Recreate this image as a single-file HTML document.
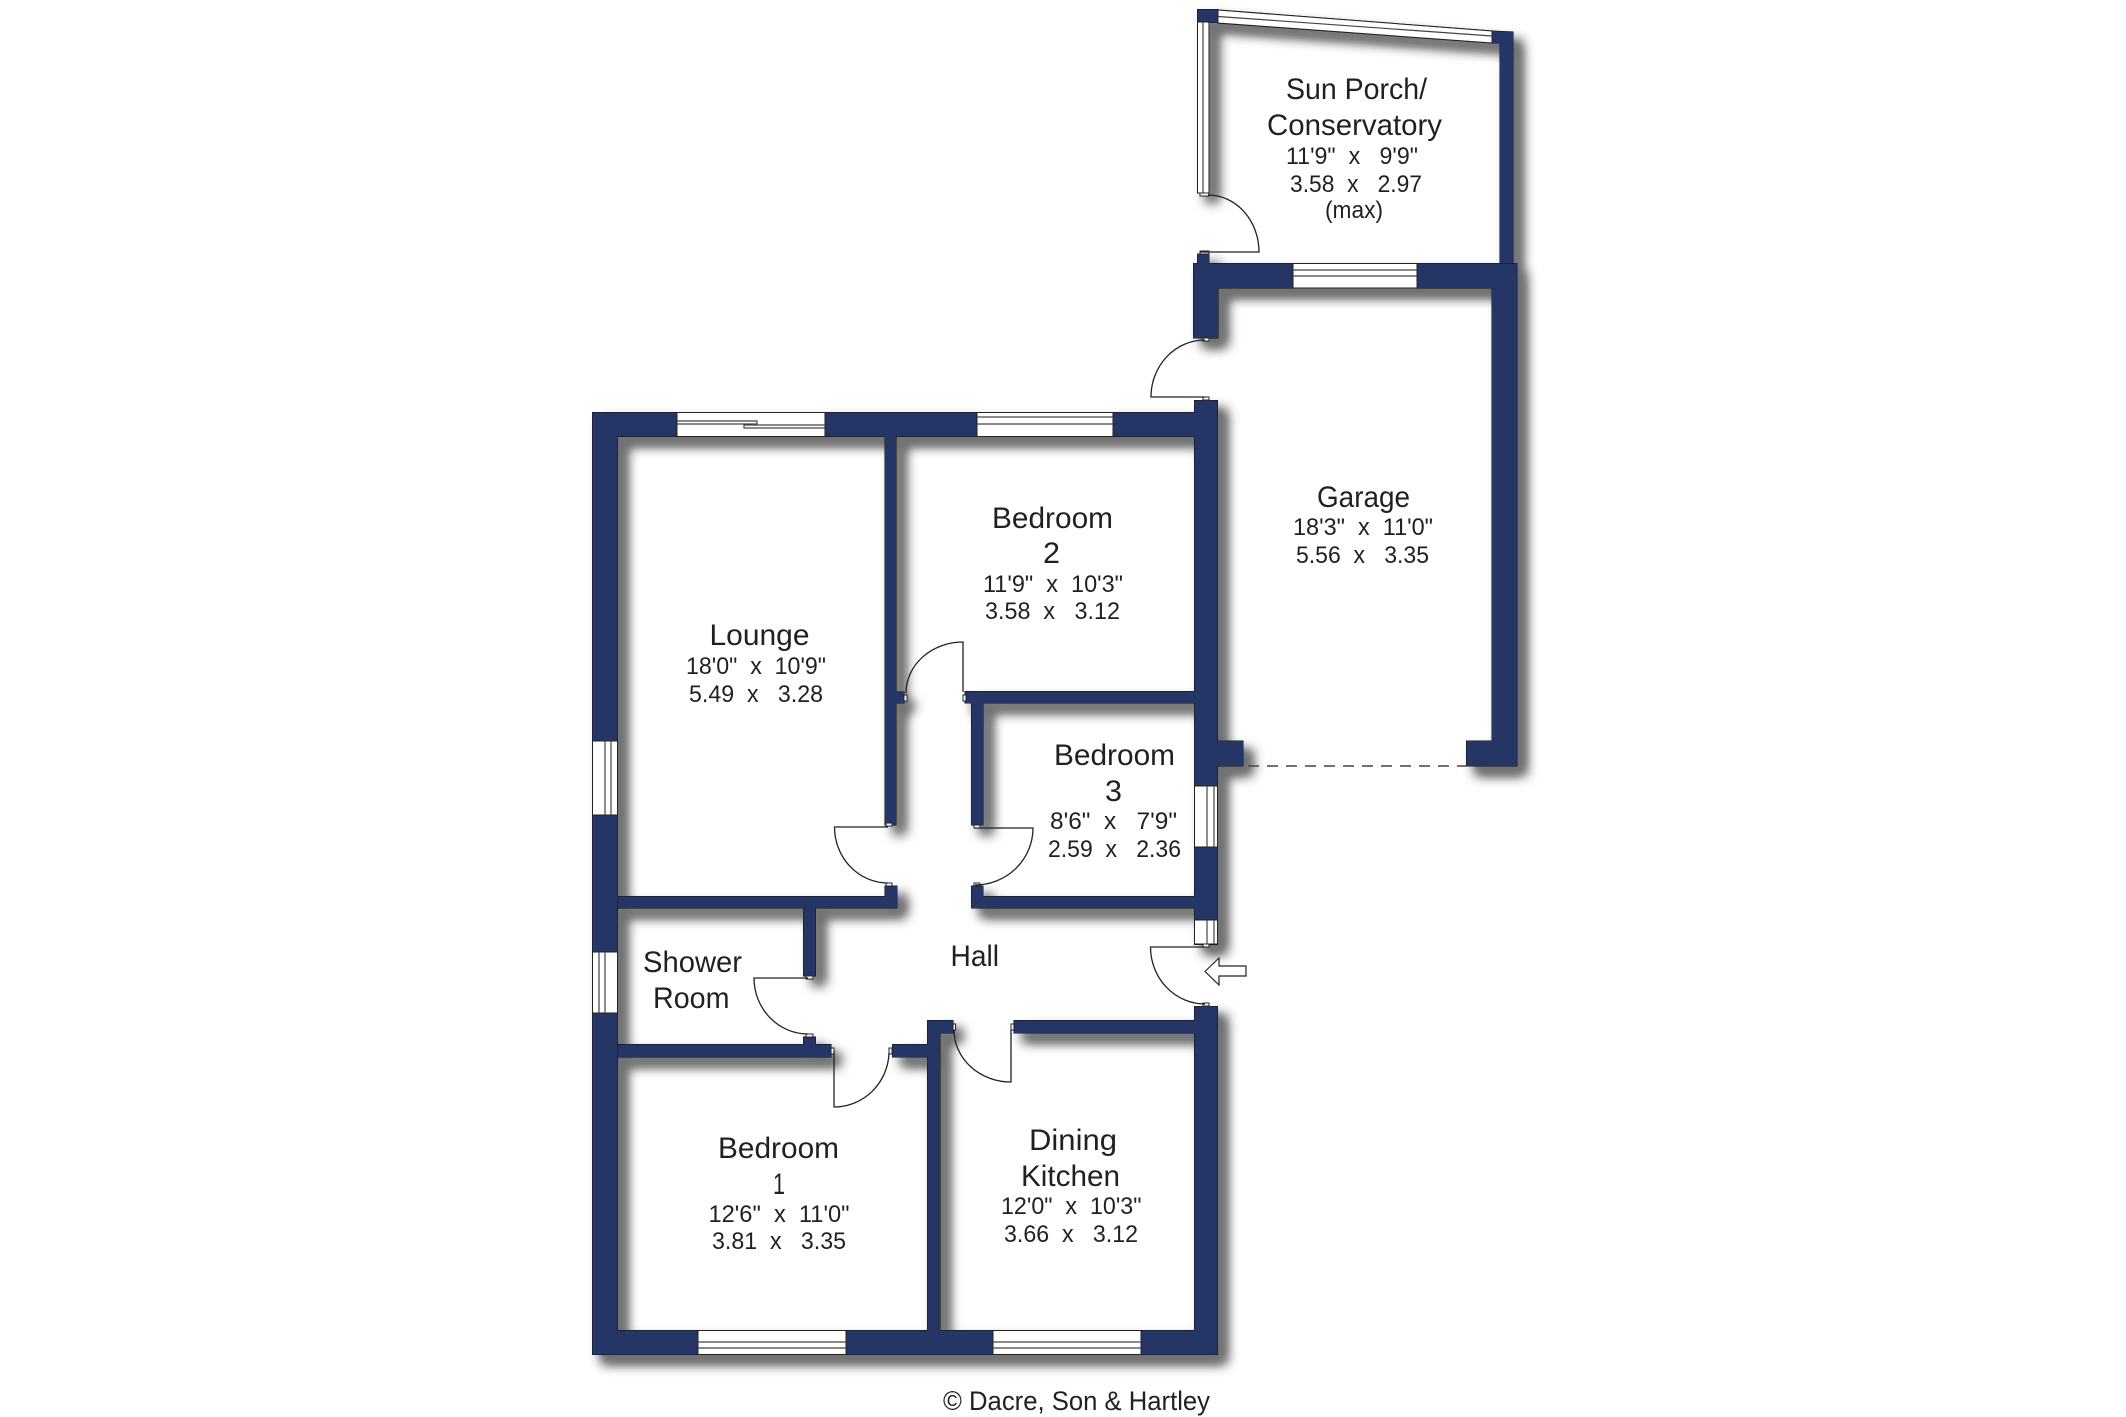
<!DOCTYPE html>
<html><head><meta charset="utf-8"><title>Floor plan</title>
<style>
html,body{margin:0;padding:0;background:#fff}
svg{display:block}
text{font-family:"Liberation Sans",sans-serif;fill:#231f20;white-space:pre}
.a{font-size:30px}.b{font-size:24px}
.w{fill:#fff;stroke:#222;stroke-width:1}
.l{stroke:#444;stroke-width:1.2;fill:none}
.d{stroke:#222;stroke-width:1.3;fill:none}
</style></head><body>
<svg xmlns="http://www.w3.org/2000/svg" width="2126" height="1417" viewBox="0 0 2126 1417">
<defs>
<filter id="s" x="-5%" y="-5%" width="110%" height="110%">
<feGaussianBlur in="SourceAlpha" stdDeviation="6"/>
<feOffset dx="9" dy="9"/>
<feComponentTransfer><feFuncA type="table" tableValues="0 .2 .38 .5 .55 .55"/></feComponentTransfer>
</filter>
<g id="g">
<rect x="592.5" y="412.5" width="625" height="24"/>
<rect x="592.5" y="412.5" width="25" height="942"/>
<rect x="592.5" y="1330.5" width="625" height="24"/>
<rect x="1194.5" y="400.5" width="23" height="544"/>
<rect x="1194.5" y="1006.5" width="23" height="348"/>
<rect x="885" y="436" width="11" height="389"/>
<rect x="896" y="692" width="8" height="11"/>
<rect x="965" y="691.5" width="230" height="11.5"/>
<rect x="971.5" y="703" width="11.5" height="122"/>
<rect x="618" y="896.5" width="279" height="11.5"/>
<rect x="885" y="886" width="12" height="10.5"/>
<rect x="971.5" y="896.5" width="223" height="11.5"/>
<rect x="971.5" y="886" width="11.5" height="10.5"/>
<rect x="803.5" y="908" width="12" height="68"/>
<rect x="618" y="1044.5" width="213" height="12.5"/>
<rect x="803.5" y="1037" width="12" height="8"/>
<rect x="892.5" y="1044.5" width="35" height="12.5"/>
<rect x="927.5" y="1020.5" width="12.5" height="310"/>
<rect x="927.5" y="1020.5" width="25.5" height="12.5"/>
<rect x="1014" y="1020.5" width="181" height="12.5"/>
<rect x="1217" y="741" width="26" height="25"/>
<rect x="1492" y="263.5" width="25" height="502"/>
<rect x="1466.5" y="741" width="50.5" height="25"/>
<rect x="1193.5" y="263.5" width="323.5" height="24.5"/>
<rect x="1193.5" y="263.5" width="24.5" height="74.5"/>
<rect x="1197.5" y="254" width="11.5" height="10"/>
<polygon points="1492,31 1513,32 1513,263 1500,263 1500,43 1492,43"/>
<rect x="1197.5" y="9.5" width="20.5" height="13"/>
<rect x="1197.5" y="22" width="11.5" height="171"/>
<polygon points="1218,10 1492,31 1492,43 1218,23"/>
</g>
</defs>
<rect width="2126" height="1417" fill="#fff"/>
<use href="#g" filter="url(#s)"/>
<use href="#g" fill="#111" stroke="#111" stroke-width="1"/>
<use href="#g" fill="#243566"/>

<!-- windows -->
<rect class="w" x="677" y="412.5" width="148" height="24"/>
<path class="l" d="M677 421H757V424H677M825 425H744V428H825"/>
<rect class="w" x="977" y="412.5" width="136" height="24"/>
<path class="l" d="M977 417H1113M977 424H1113"/>
<rect class="w" x="592.5" y="741" width="25" height="74"/>
<path class="l" d="M605 741V815M611 741V815"/>
<rect class="w" x="592.5" y="952" width="25" height="61"/>
<path class="l" d="M599 952V1013M605 952V1013"/>
<rect class="w" x="698" y="1330.5" width="148" height="24"/>
<path class="l" d="M698 1342H846M698 1348H846"/>
<rect class="w" x="993" y="1330.5" width="148" height="24"/>
<path class="l" d="M993 1342H1141M993 1348H1141"/>
<rect class="w" x="1194.5" y="786" width="23" height="61"/>
<path class="l" d="M1207 786V847M1214 786V847"/>
<rect class="w" x="1194.5" y="920" width="23" height="24"/>
<path class="l" d="M1207 920V944M1214 920V944"/>
<rect class="w" x="1293" y="263.5" width="124" height="24.5"/>
<path class="l" d="M1293 270H1417M1293 276H1417"/>
<rect class="w" x="1197.5" y="22" width="11.5" height="171"/>
<path class="l" d="M1203 22V193"/>
<polygon class="w" points="1218,10 1492,31 1492,43 1218,23"/>
<path class="l" d="M1218 16.5L1492 36"/>

<!-- sills -->
<g class="w">
<rect class="w" x="1200" y="193" width="9" height="3"/>
<rect class="w" x="1200" y="251" width="9" height="3"/>
<rect class="w" x="1203" y="338" width="6" height="3"/>
<rect class="w" x="1203" y="397" width="6" height="3"/>
<rect class="w" x="904" y="695" width="3" height="6"/>
<rect class="w" x="963" y="695" width="3" height="6"/>
<rect class="w" x="886" y="823" width="6" height="3"/>
<rect class="w" x="886" y="883" width="6" height="3"/>
<rect class="w" x="974" y="825" width="6" height="3"/>
<rect class="w" x="974" y="883" width="6" height="3"/>
<rect class="w" x="806" y="976" width="7" height="3"/>
<rect class="w" x="806" y="1034" width="7" height="3"/>
<rect class="w" x="831" y="1048" width="3" height="6"/>
<rect class="w" x="889" y="1048" width="3" height="6"/>
<rect class="w" x="953" y="1024" width="2.5" height="6"/>
<rect class="w" x="1011" y="1024" width="3" height="6"/>
<rect class="w" x="1203" y="944" width="6" height="3"/>
<rect class="w" x="1203" y="1003" width="6" height="3"/>
</g>

<!-- doors -->
<path class="d" d="M1208 195A51 57 0 0 1 1259 252L1200 252"/>
<path class="d" d="M1205 340A54 57 0 0 0 1151 397L1205 397"/>
<path class="d" d="M906 693A57 51 0 0 1 963 642L963 692"/>
<path class="d" d="M888 827L834.5 827A53.5 56 0 0 0 888 883"/>
<path class="d" d="M975 828L1033 828A58 57 0 0 1 975 885"/>
<path class="d" d="M808 978L754 978A54 56 0 0 0 808 1034"/>
<path class="d" d="M834 1051L834 1107A55 56 0 0 0 889 1053"/>
<path class="d" d="M954 1030A57 52 0 0 0 1011 1082L1011 1030"/>
<path class="d" d="M1205 947L1150.5 947A54.5 57 0 0 0 1205 1004"/>

<!-- garage dashed line -->
<path d="M1248 766H1466" stroke="#444" stroke-width="1.5" stroke-dasharray="11 8" fill="none"/>

<!-- arrow -->
<path d="M1205 971.5L1219 958V966H1246V976H1219V985Z" fill="#fff" stroke="#222" stroke-width="1.2"/>

<!-- labels -->
<text class="a" x="1286" y="99" textLength="141" lengthAdjust="spacingAndGlyphs">Sun Porch/</text>
<text class="a" x="1267" y="135" textLength="175" lengthAdjust="spacingAndGlyphs">Conservatory</text>
<text class="b" x="1286" y="164" textLength="132" lengthAdjust="spacingAndGlyphs">11'9"  x   9'9"</text>
<text class="b" x="1290" y="192" textLength="132" lengthAdjust="spacingAndGlyphs">3.58  x   2.97</text>
<text class="b" x="1325" y="218" textLength="58" lengthAdjust="spacingAndGlyphs">(max)</text>

<text class="a" x="1317" y="507" textLength="93" lengthAdjust="spacingAndGlyphs">Garage</text>
<text class="b" x="1293" y="535" textLength="140" lengthAdjust="spacingAndGlyphs">18'3"  x  11'0"</text>
<text class="b" x="1296" y="563" textLength="133" lengthAdjust="spacingAndGlyphs">5.56  x   3.35</text>

<text class="a" x="992" y="528" textLength="121" lengthAdjust="spacingAndGlyphs">Bedroom</text>
<text class="a" x="1043" y="563" textLength="17" lengthAdjust="spacingAndGlyphs">2</text>
<text class="b" x="983" y="592" textLength="140" lengthAdjust="spacingAndGlyphs">11'9"  x  10'3"</text>
<text class="b" x="985" y="619" textLength="135" lengthAdjust="spacingAndGlyphs">3.58  x   3.12</text>

<text class="a" x="709.5" y="645" textLength="100" lengthAdjust="spacingAndGlyphs">Lounge</text>
<text class="b" x="686" y="674" textLength="140" lengthAdjust="spacingAndGlyphs">18'0"  x  10'9"</text>
<text class="b" x="689" y="702" textLength="134" lengthAdjust="spacingAndGlyphs">5.49  x   3.28</text>

<text class="a" x="1054" y="765" textLength="121" lengthAdjust="spacingAndGlyphs">Bedroom</text>
<text class="a" x="1105" y="801" textLength="17" lengthAdjust="spacingAndGlyphs">3</text>
<text class="b" x="1050" y="829" textLength="127" lengthAdjust="spacingAndGlyphs">8'6"  x   7'9"</text>
<text class="b" x="1048" y="857" textLength="133" lengthAdjust="spacingAndGlyphs">2.59  x   2.36</text>

<text class="a" x="950.5" y="966" textLength="48.5" lengthAdjust="spacingAndGlyphs">Hall</text>
<text class="a" x="643" y="972" textLength="99" lengthAdjust="spacingAndGlyphs">Shower</text>
<text class="a" x="653" y="1008" textLength="76.5" lengthAdjust="spacingAndGlyphs">Room</text>

<text class="a" x="718" y="1158" textLength="121" lengthAdjust="spacingAndGlyphs">Bedroom</text>
<text class="a" x="773" y="1194" textLength="12" lengthAdjust="spacingAndGlyphs">1</text>
<text class="b" x="708.5" y="1222" textLength="141" lengthAdjust="spacingAndGlyphs">12'6"  x  11'0"</text>
<text class="b" x="712" y="1249" textLength="134" lengthAdjust="spacingAndGlyphs">3.81  x   3.35</text>

<text class="a" x="1029" y="1150" textLength="88" lengthAdjust="spacingAndGlyphs">Dining</text>
<text class="a" x="1021" y="1186" textLength="99" lengthAdjust="spacingAndGlyphs">Kitchen</text>
<text class="b" x="1001" y="1214" textLength="140.5" lengthAdjust="spacingAndGlyphs">12'0"  x  10'3"</text>
<text class="b" x="1004" y="1242" textLength="134" lengthAdjust="spacingAndGlyphs">3.66  x   3.12</text>

<text class="b" style="font-size:27px" x="943" y="1410" textLength="267" lengthAdjust="spacingAndGlyphs">© Dacre, Son &amp; Hartley</text>
</svg>
</body></html>
